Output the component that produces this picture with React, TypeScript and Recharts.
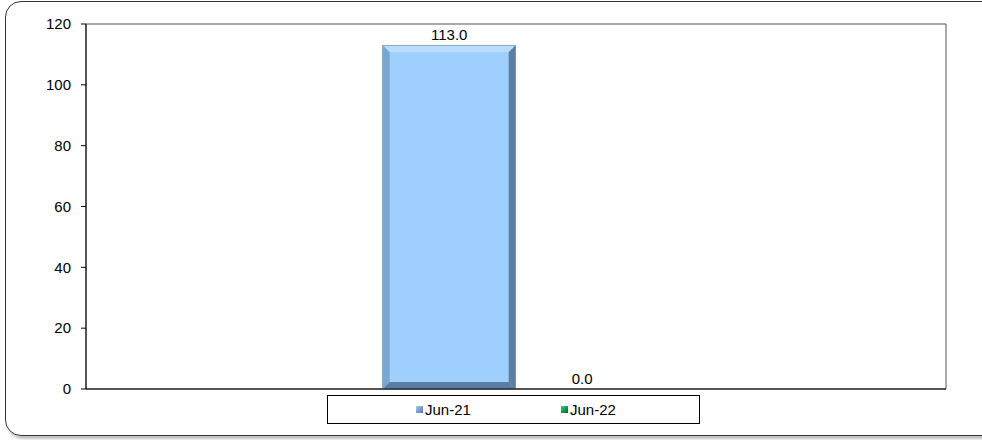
import React from "react";
import { BarChart, Bar, XAxis, YAxis, ReferenceArea, LabelList, Legend } from "recharts";

const categories = [""];
const jun21 = [113.0];
const jun22 = [0.0];
const yTicks = [0, 20, 40, 60, 80, 100, 120];
const seriesNames = ["Jun-21", "Jun-22"];

const data = categories.map((c, i) => ({ name: c, jun21: jun21[i], jun22: jun22[i] }));

const FONT = "'Liberation Sans', Arial, sans-serif";

const BevelBar = (props: any) => {
  const { x, y, width, height, base, light, dark, darker } = props;
  if (!height || height <= 0) return null;
  const b = Math.min(7, width / 4, height / 4);
  const x2 = x + width;
  const y2 = y + height;
  return (
    <g>
      <rect x={x} y={y} width={width} height={height} fill={base} />
      <polygon points={`${x},${y} ${x2},${y} ${x2 - b},${y + b} ${x + b},${y + b}`} fill={light} />
      <polygon points={`${x},${y} ${x + b},${y + b} ${x + b},${y2 - b} ${x},${y2}`} fill={dark} />
      <polygon points={`${x2},${y} ${x2},${y2} ${x2 - b},${y2 - b} ${x2 - b},${y + b}`} fill={darker} />
      <polygon points={`${x},${y2} ${x + b},${y2 - b} ${x2 - b},${y2 - b} ${x2},${y2}`} fill={darker} />
      <rect x={x} y={y} width={width} height={height} fill="none" stroke="#6d8fb0" strokeWidth={0.6} />
    </g>
  );
};

const LegendBox = () => (
  <div
    style={{
      width: 373,
      height: 29,
      boxSizing: "border-box",
      border: "1px solid #000",
      background: "#fff",
      position: "relative",
      fontFamily: FONT,
      fontSize: 15,
      color: "#000",
    }}
  >
    <div style={{ position: "absolute", left: 88, top: 5, display: "flex", alignItems: "center", lineHeight: "17px" }}>
      <span style={{ width: 7, height: 7, background: "linear-gradient(135deg,#a9cdf0,#4f78a3)", display: "inline-block", marginRight: 2 }} />
      <span>{seriesNames[0]}</span>
    </div>
    <div style={{ position: "absolute", left: 233, top: 5, display: "flex", alignItems: "center", lineHeight: "17px" }}>
      <span style={{ width: 7, height: 7, background: "linear-gradient(135deg,#3bd37a,#005f2a)", display: "inline-block", marginRight: 2 }} />
      <span>{seriesNames[1]}</span>
    </div>
  </div>
);

export default function App() {
  return (
    <div style={{ position: "absolute", left: 0, top: 0, width: 982, height: 440, overflow: "hidden", background: "#fff" }}>
      <div
        style={{
          position: "absolute",
          left: 5,
          top: 1,
          width: 1000,
          height: 435,
          border: "1px solid #333",
          borderRadius: 16,
          boxShadow: "2px 3px 3px rgba(0,0,0,0.25)",
          boxSizing: "border-box",
        }}
      />
      <div style={{ position: "absolute", left: 0, top: 0 }}>
        <BarChart
          width={982}
          height={440}
          data={data}
          margin={{ top: 24, right: 36, bottom: 21, left: 26 }}
          barCategoryGap="34.5%"
          barGap={0}
        >
          <XAxis dataKey="name" tick={false} tickLine={false} height={1} axisLine={{ stroke: "#000" }} />
          <YAxis
            width={60}
            domain={[0, 120]}
            ticks={yTicks}
            interval={0}
            tickSize={5}
            tickMargin={10}
            tickLine={{ stroke: "#000" }}
            axisLine={{ stroke: "#000" }}
            tick={{ fill: "#000", fontSize: 15, fontFamily: FONT }}
          />
          <ReferenceArea y1={0} y2={120} fill="none" stroke="#555" strokeWidth={1} ifOverflow="visible" />
          <Legend
            content={<LegendBox />}
            wrapperStyle={{ position: "absolute", left: 327, top: 395, width: 373, height: 29 }}
          />
          <Bar
            dataKey="jun21"
            name={seriesNames[0]}
            isAnimationActive={false}
            fill="#99ccff"
            shape={(p: any) => <BevelBar {...p} base="#9fcffc" light="#b9dcfd" dark="#7aa6d0" darker="#5a7fa3" />}
          >
            <LabelList
              dataKey="jun21"
              position="top"
              offset={5}
              formatter={(v: any) => Number(v).toFixed(1)}
              style={{ fill: "#000", fontSize: 15, fontFamily: FONT }}
            />
          </Bar>
          <Bar
            dataKey="jun22"
            name={seriesNames[1]}
            isAnimationActive={false}
            fill="#00a040"
            shape={(p: any) => <BevelBar {...p} base="#00a040" light="#40c070" dark="#00803a" darker="#005f2a" />}
          >
            <LabelList
              dataKey="jun22"
              position="top"
              offset={5}
              formatter={(v: any) => Number(v).toFixed(1)}
              style={{ fill: "#000", fontSize: 15, fontFamily: FONT }}
            />
          </Bar>
        </BarChart>
      </div>
    </div>
  );
}
